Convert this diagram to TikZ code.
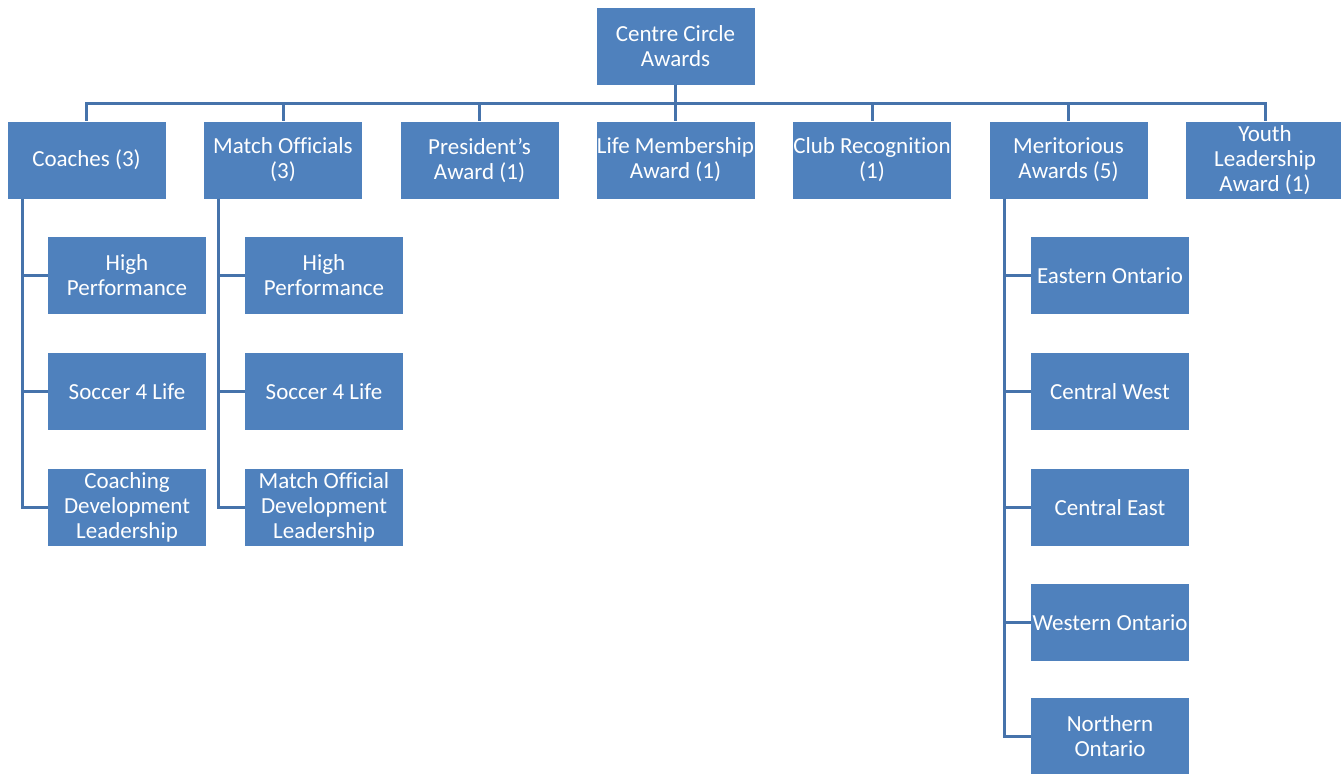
\documentclass[tikz,border=0pt]{standalone}
\usepackage{fontspec}
\setmainfont{Carlito}[Ligatures={NoCommon}]
\usepackage{tikz}
\usetikzlibrary{positioning,calc}
\definecolor{boxblue}{HTML}{4F81BD}
\definecolor{lineblue}{HTML}{4673AB}

\begin{document}
\begin{tikzpicture}[x=0.5pt,y=-0.5pt,
        award/.style={fill=boxblue, text=white, align=center, inner sep=0pt,
            minimum width=79pt, minimum height=38.5pt,
            font=\fontsize{11.5}{12.5}\selectfont},
        link/.style={draw=lineblue, line width=1.5pt}]
        \useasboundingbox (0,0) rectangle (1341,773);

        \node[award] (root) at (675.5,46) {Centre Circle\\Awards};

        \node[award] (coach) at (86.5,160) {Coaches (3)};
        \node[award] (match) at (283,160) {Match Officials\\(3)};
        \node[award] (pres) at (479.5,160) {President’s\\Award (1)};
        \node[award] (life) at (675.5,160) {Life Membership\\Award (1)};
        \node[award] (club) at (872,160) {Club Recognition\\(1)};
        \node[award] (merit) at (1068.5,160) {Meritorious\\Awards (5)};
        \node[award] (youth) at (1265,160) {Youth\\Leadership\\Award (1)};

        \node[award] (chp) at (127,275.5) {High\\Performance};
        \node[award] (cs4l) at (127,391.5) {Soccer 4 Life};
        \node[award] (cdl) at (127,507.5) {Coaching\\Development\\Leadership};

        \node[award] (mhp) at (324,275.5) {High\\Performance};
        \node[award] (ms4l) at (324,391.5) {Soccer 4 Life};
        \node[award] (mdl) at (324,507.5) {Match Official\\Development\\Leadership};

        \node[award] (east) at (1110,275.5) {Eastern Ontario};
        \node[award] (cwest) at (1110,391.5) {Central West};
        \node[award] (ceast) at (1110,507.5) {Central East};
        \node[award] (west) at (1110,622.5) {Western Ontario};
        \node[award] (north) at (1110,736) {Northern\\Ontario};

        \coordinate (bus) at (675.5,103);
        \foreach \n in {coach,match,pres,life,club,merit,youth}
            \draw[link] (root.south) -- (bus) -| (\n.north);

        \foreach \n in {chp,cs4l,cdl}
            \draw[link] ([xshift=7.5pt]coach.south west) |- (\n.west);
        \foreach \n in {mhp,ms4l,mdl}
            \draw[link] ([xshift=7.5pt]match.south west) |- (\n.west);
        \foreach \n in {east,cwest,ceast,west,north}
            \draw[link] ([xshift=7.5pt]merit.south west) |- (\n.west);
    \end{tikzpicture}
\end{document}
